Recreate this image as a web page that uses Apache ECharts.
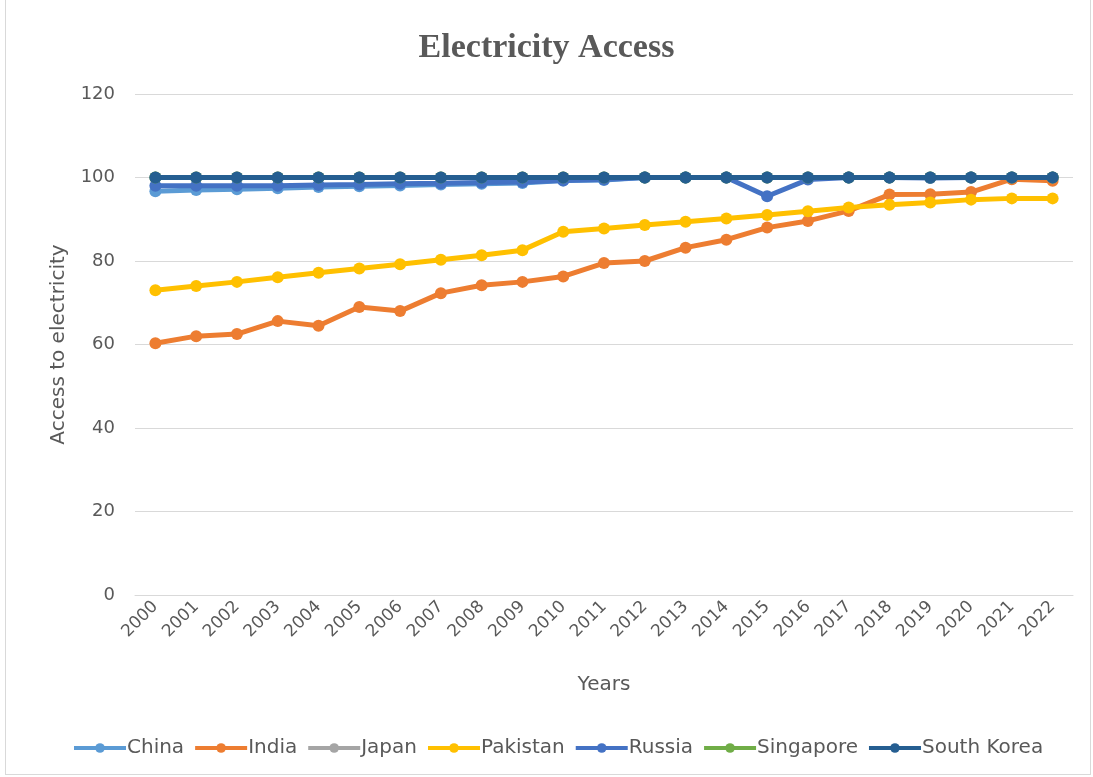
<!DOCTYPE html>
<html><head><meta charset="utf-8">
<script src="https://cdn.jsdelivr.net/npm/echarts@6/dist/echarts.min.js"></script>
<style>
html,body{margin:0;padding:0;background:#fff;}
#frame{position:absolute;left:5px;top:0;width:1086px;height:775px;border:1px solid #d9d9d9;border-top:none;box-sizing:border-box;}
#c{position:absolute;left:0;top:0;width:1093px;height:777px;}
</style></head>
<body>
<div id="frame"></div>
<div id="c"></div>
<script>
const years = ['2000','2001','2002','2003','2004','2005','2006','2007','2008','2009','2010','2011','2012','2013','2014','2015','2016','2017','2018','2019','2020','2021','2022'];
const china = [96.7,97.0,97.2,97.4,97.7,97.9,98.1,98.3,98.5,98.7,99.3,99.4,100,100,100,100,100,100,100,100,100,100,100];
const india = [60.3,62.0,62.5,65.6,64.5,69.0,68.0,72.3,74.2,75.0,76.3,79.5,80.0,83.2,85.1,88.0,89.6,92.0,95.9,96.0,96.5,99.6,99.2];
const japan = [100,100,100,100,100,100,100,100,100,100,100,100,100,100,100,100,100,100,100,100,100,100,100];
const pakistan = [73.0,74.0,75.0,76.1,77.2,78.2,79.2,80.3,81.4,82.6,87.0,87.8,88.6,89.4,90.2,91.0,91.9,92.8,93.5,94.0,94.7,95.0,95.0];
const russia = [98.0,98.0,98.0,98.0,98.2,98.3,98.5,98.6,98.8,98.9,99.3,99.5,100,100,100,95.5,99.5,100,100,99.9,100,100,100];
const singapore = [100,100,100,100,100,100,100,100,100,100,100,100,100,100,100,100,100,100,100,100,100,100,100];
const southKorea = [100,100,100,100,100,100,100,100,100,100,100,100,100,100,100,100,100,100,100,100,100,100,100];
const yTicks = [0,20,40,60,80,100,120];

const names = ['China','India','Japan','Pakistan','Russia','Singapore','South Korea'];
const datas = [china,india,japan,pakistan,russia,singapore,southKorea];
const colors = ['#5B9BD5','#ED7D31','#A5A5A5','#FFC000','#4472C4','#70AD47','#255E91'];
const font = '"DejaVu Sans", sans-serif';

const chart = echarts.init(document.getElementById('c'));
chart.setOption({
  animation:false,
  color:colors,
  title:{text:'Electricity Access',left:'center',top:26,
    textStyle:{fontFamily:'"Liberation Serif","Times New Roman",serif',fontWeight:'bold',fontSize:34,color:'#595959'}},
  grid:{left:135,right:20,top:94,bottom:182,containLabel:false},
  legend:{bottom:14,left:67,itemWidth:52,itemHeight:12,itemGap:9,
    lineStyle:{width:4},
    textStyle:{fontFamily:font,fontSize:20,color:'#595959',padding:[0,0,0,-4]},
    data:names},
  xAxis:{type:'category',data:years,boundaryGap:true,
    name:'Years',nameLocation:'middle',nameGap:80,
    nameTextStyle:{fontFamily:font,fontSize:20,color:'#595959'},
    axisLine:{show:true,lineStyle:{color:'#d9d9d9',width:1}},
    axisTick:{show:false},
    axisLabel:{rotate:45,fontFamily:font,fontSize:17,color:'#595959',margin:9,interval:0}},
  yAxis:{type:'value',min:0,max:120,interval:20,
    name:'Access to electricity',nameLocation:'middle',nameGap:66,nameRotate:90,
    nameTextStyle:{fontFamily:font,fontSize:20,color:'#595959'},
    axisLine:{show:false},axisTick:{show:false},
    axisLabel:{fontFamily:font,fontSize:18,color:'#595959',margin:20,
      formatter:v=>yTicks.includes(v)?String(v):''},
    splitLine:{lineStyle:{color:'#d9d9d9',width:1}}},
  series: names.map((n,i)=>({
    name:n,type:'line',data:datas[i],
    symbol:'circle',symbolSize:12,
    lineStyle:{width:5,color:colors[i]},
    itemStyle:{color:colors[i]},
    z:2+i
  }))
});
</script>
</body></html>
